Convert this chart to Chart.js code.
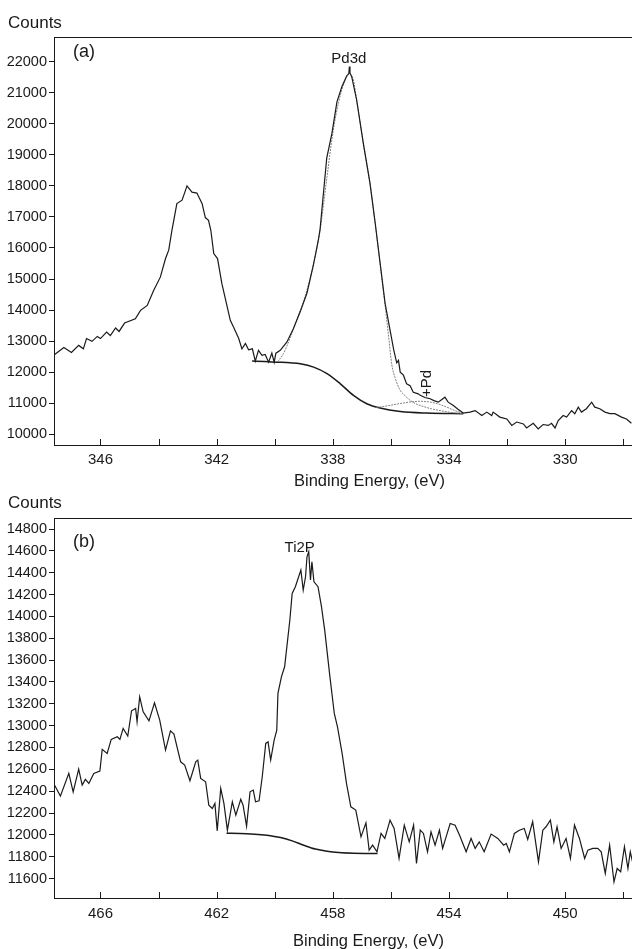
<!DOCTYPE html>
<html>
<head>
<meta charset="utf-8">
<script src="https://cdn.jsdelivr.net/npm/chart.js@4/dist/chart.umd.min.js"></script>
<style>
  html, body { margin: 0; padding: 0; background: #fff; overflow: hidden; }
  #wrap { position: relative; width: 632px; height: 949px; }
  canvas { position: absolute; left: 0; }
  #chartA { top: 0; }
  #chartB { top: 490px; }
</style>
</head>
<body>
<div id="wrap">
  <canvas id="chartA" width="632" height="490"></canvas>
  <canvas id="chartB" width="632" height="459"></canvas>
</div>
<script>
// (a) Pd3d region: measured spectrum
const energyA = [347.61, 347.26, 347.00, 346.75, 346.59, 346.48, 346.29, 346.11, 346.00, 345.79,
    345.66, 345.48, 345.36, 345.17, 344.80, 344.62, 344.39, 344.17, 343.94, 343.76,
    343.65, 343.54, 343.37, 343.19, 343.02, 342.85, 342.68, 342.50, 342.39, 342.28,
    342.20, 342.10, 341.97, 341.82, 341.53, 341.42, 341.24, 341.13, 341.01, 340.90,
    340.77, 340.67, 340.56, 340.44, 340.33, 340.21, 340.10, 340.02, 339.96, 339.81,
    339.58, 339.36, 339.12, 338.89, 338.67, 338.50, 338.44, 338.38, 338.21, 338.03,
    337.86, 337.69, 337.52, 337.45, 337.43, 337.41, 337.35, 337.18, 336.95, 336.72,
    336.54, 336.37, 336.20, 336.03, 335.90, 335.80, 335.74, 335.68, 335.57, 335.46,
    335.34, 335.23, 335.06, 334.99, 334.83, 334.65, 334.52, 334.37, 334.27, 334.14,
    334.03, 333.85, 333.69, 333.51, 333.28, 333.10, 332.87, 332.70, 332.53, 332.48,
    332.25, 332.01, 331.84, 331.67, 331.44, 331.33, 331.10, 330.93, 330.76, 330.58,
    330.47, 330.35, 330.24, 330.07, 329.95, 329.78, 329.67, 329.55, 329.44, 329.27,
    329.09, 328.98, 328.81, 328.63, 328.46, 328.29, 328.06, 327.89, 327.72]
const countsA = [12540, 12790, 12630, 12860, 12750, 13080, 12990, 13150, 13080, 13290,
    13180, 13420, 13310, 13580, 13720, 13990, 14150, 14630, 15060, 15660,
    15930, 16570, 17430, 17540, 18000, 17800, 17770, 17430, 16980, 16890,
    16570, 15820, 15660, 14850, 13670, 13450, 13080, 12750, 12920, 12720,
    12750, 12350, 12700, 12540, 12570, 12320, 12610, 12320, 12610, 12700,
    12970, 13400, 13950, 14550, 15450, 16250, 16600, 17200, 18900, 19700,
    20700, 21200, 21550, 21620, 21850, 21640, 21520, 20770, 19370, 18080,
    16790, 15500, 14210, 13350, 12700, 12300, 12380, 12000, 11900, 11620,
    11560, 11350, 11300, 11250, 11180, 11140, 11080, 11030, 11100, 11190,
    11030, 10920, 10800, 10680, 10710, 10760, 10600, 10710, 10600, 10710,
    10550, 10490, 10280, 10390, 10330, 10200, 10350, 10170, 10310, 10280,
    10350, 10200, 10440, 10600, 10550, 10760, 10660, 10870, 10710, 10820,
    11030, 10870, 10820, 10710, 10660, 10660, 10550, 10490, 10350]

// (a) Shirley background under the Pd3d peak
const bgEnergyA = [340.78, 340.35, 339.93, 339.47, 339.12, 338.66, 338.20, 337.75, 337.29, 336.83, 336.37, 335.68, 334.77, 333.51]
const bgCountsA = [12355, 12340, 12320, 12300, 12270, 12160, 11950, 11630, 11250, 10980, 10840, 10730, 10680, 10660]

// (a) fitted Pd3d envelope
const fitEnergyA = [339.90, 339.70, 339.45, 339.20, 338.95, 338.70, 338.45, 338.20, 338.00, 337.80,
    337.60, 337.45, 337.30, 337.18, 336.95, 336.72, 336.54, 336.37, 336.20, 336.08,
    335.97, 335.85, 335.68, 335.50, 335.34, 335.10, 334.88, 334.60, 334.31, 334.00, 333.51]
const fitCountsA = [12330, 12600, 13150, 13800, 14450, 15350, 16500, 18300, 19700, 20700,
    21350, 21600, 21450, 20770, 19370, 18080, 16790, 15450, 14150, 13150,
    12250, 11800, 11410, 11230, 11090, 10960, 10890, 10815, 10760, 10710, 10660]

// (a) small metallic Pd component
const pdEnergyA = [336.50, 336.20, 335.90, 335.60, 335.30, 335.00, 334.70, 334.40, 334.10, 333.80, 333.51]
const pdCountsA = [10860, 10900, 10950, 11000, 11040, 11060, 11040, 10980, 10880, 10760, 10670]

// (b) Ti2p region: measured spectrum
const energyB = [467.61, 467.38, 467.09, 466.94, 466.75, 466.63, 466.52, 466.40, 466.23, 466.02,
    465.94, 465.77, 465.63, 465.42, 465.33, 465.22, 465.06, 464.93, 464.79, 464.74,
    464.65, 464.53, 464.33, 464.14, 463.96, 463.76, 463.59, 463.47, 463.24, 463.10,
    462.92, 462.72, 462.65, 462.55, 462.38, 462.27, 462.15, 462.06, 461.98, 461.86,
    461.75, 461.63, 461.46, 461.34, 461.17, 461.09, 460.97, 460.85, 460.74, 460.66,
    460.54, 460.43, 460.31, 460.23, 460.14, 460.02, 459.93, 459.89, 459.77, 459.66,
    459.48, 459.40, 459.29, 459.10, 459.02, 458.94, 458.89, 458.83, 458.77, 458.72,
    458.65, 458.51, 458.39, 458.28, 458.10, 457.95, 457.84, 457.68, 457.53, 457.38,
    457.21, 457.03, 456.86, 456.75, 456.63, 456.48, 456.34, 456.21, 456.03, 455.89,
    455.72, 455.54, 455.37, 455.22, 455.12, 454.99, 454.88, 454.74, 454.62, 454.48,
    454.33, 454.22, 454.10, 453.96, 453.79, 453.64, 453.41, 453.24, 453.10, 452.96,
    452.79, 452.55, 452.32, 452.12, 452.03, 451.92, 451.75, 451.58, 451.41, 451.29,
    451.12, 450.92, 450.77, 450.66, 450.51, 450.39, 450.28, 450.14, 449.97, 449.82,
    449.68, 449.51, 449.33, 449.22, 449.05, 448.88, 448.76, 448.62, 448.47, 448.32,
    448.21, 448.09, 447.96, 447.84, 447.76, 447.67]
const countsB = [12471, 12355, 12563, 12394, 12602, 12456, 12508, 12471, 12563, 12584,
    12783, 12746, 12874, 12898, 12874, 12975, 12905, 13136, 13158, 13035,
    13264, 13127, 13044, 13209, 13051, 12776, 12953, 12923, 12669, 12639,
    12495, 12669, 12685, 12517, 12486, 12272, 12242, 12288, 12037, 12425,
    12288, 12043, 12303, 12181, 12325, 12272, 12080, 12394, 12410, 12303,
    12312, 12532, 12837, 12852, 12685, 12868, 12959, 13295, 13447, 13539,
    13967, 14211, 14272, 14425, 14241, 14363, 14546, 14592, 14333, 14501,
    14317, 14272, 14088, 13875, 13447, 13112, 12989, 12746, 12471, 12257,
    12227, 11982, 12110, 11860, 11906, 11845, 12013, 11967, 12135, 12059,
    11784, 12089, 11936, 12089, 11738, 12043, 12013, 11845, 12028, 11906,
    12043, 11876, 11982, 12104, 12089, 11998, 11845, 11967, 11876, 11936,
    11845, 12007, 11967, 11906, 11922, 11845, 12013, 12043, 12059, 11958,
    12120, 11753, 12043, 12074, 12135, 11936, 12074, 11876, 11967, 11784,
    12089, 11967, 11784, 11860, 11876, 11876, 11845, 11647, 11906, 11570,
    11692, 11662, 11891, 11692, 11845, 11738]

// (b) Shirley background under the Ti2p peak
const bgEnergyB = [461.66, 461.20, 460.70, 460.20, 459.80, 459.40, 459.00, 458.60, 458.20, 457.80, 457.30, 456.46]
const bgCountsB = [12015, 12012, 12005, 11995, 11975, 11945, 11905, 11870, 11850, 11838, 11832, 11830]

// axis ticks
const xTicksA = [346, 342, 338, 334, 330]
const xMarksA = [346, 344, 342, 340, 338, 336, 334, 332, 330, 328]
const yTicksA = [10000, 11000, 12000, 13000, 14000, 15000, 16000, 17000, 18000, 19000, 20000, 21000, 22000]
const xTicksB = [466, 462, 458, 454, 450]
const xMarksB = [466, 464, 462, 460, 458, 456, 454, 452, 450, 448]
const yTicksB = [11600, 11800, 12000, 12200, 12400, 12600, 12800, 13000, 13200, 13400, 13600, 13800, 14000, 14200, 14400, 14600, 14800]

const INK = "#1a1a1a"
const FIT = "#808080"
const FONT = "'Liberation Sans', Arial, sans-serif"

function points(xs, ys) {
    return xs.map((x, i) => ({ x: x, y: ys[i] }))
}

function axes(xMin, xMax, xTicks, yMin, yMax, yTicks, bottomSpace, labelPad) {
    return {
        x: {
            type: "linear",
            reverse: true,
            min: xMin,
            max: xMax,
            afterBuildTicks: s => { s.ticks = xTicks.map(v => ({ value: v })) },
            afterFit: s => { s.height = bottomSpace; s.paddingLeft = 0; s.paddingRight = 0 },
            grid: { drawOnChartArea: false, drawTicks: false },
            border: { color: INK, width: 1 },
            ticks: {
                color: INK,
                font: { family: FONT, size: 15 },
                padding: labelPad,
                maxRotation: 0,
                autoSkip: false,
                callback: v => String(v)
            }
        },
        y: {
            type: "linear",
            min: yMin,
            max: yMax,
            afterBuildTicks: s => { s.ticks = yTicks.map(v => ({ value: v })) },
            afterFit: s => { s.width = 54; s.paddingTop = 0; s.paddingBottom = 0 },
            grid: { drawOnChartArea: false, drawTicks: true, tickLength: 5, color: INK },
            border: { color: INK, width: 1 },
            ticks: {
                color: INK,
                font: { family: FONT, size: 14.5 },
                padding: 2,
                autoSkip: false,
                callback: v => String(v)
            }
        }
    }
}

// frame top line, inward x ticks, titles and peak labels
const decor = {
    id: "decor",
    afterDraw(chart, args, o) {
        const ctx = chart.ctx
        const area = chart.chartArea
        const sx = chart.scales.x
        const sy = chart.scales.y
        ctx.save()
        ctx.strokeStyle = INK
        ctx.lineWidth = 1
        ctx.beginPath()
        ctx.moveTo(area.left, area.top + 0.5)
        ctx.lineTo(area.right, area.top + 0.5)
        o.marks.forEach(v => {
            const px = Math.round(sx.getPixelForValue(v)) + 0.5
            ctx.moveTo(px, area.bottom)
            ctx.lineTo(px, area.bottom - 6)
        })
        ctx.stroke()

        ctx.fillStyle = INK
        ctx.textAlign = "left"
        ctx.textBaseline = "alphabetic"
        ctx.font = "17px " + FONT
        ctx.fillText("Counts", 8, o.countsY)
        ctx.font = "18px " + FONT
        ctx.fillText(o.panel, area.left + 19, area.top + o.panelDy)

        ctx.textAlign = "center"
        ctx.font = "16.5px " + FONT
        ctx.fillText("Binding Energy, (eV)", o.titleX, o.titleY)

        ctx.font = "15px " + FONT
        o.peaks.forEach(p => {
            const px = sx.getPixelForValue(p.x)
            const py = sy.getPixelForValue(p.y)
            ctx.save()
            ctx.translate(px, py)
            ctx.rotate(-(p.rot || 0) * Math.PI / 180)
            ctx.textBaseline = p.rot ? "middle" : "alphabetic"
            ctx.fillText(p.text, 0, 0)
            ctx.restore()
        })
        ctx.restore()
    }
}

const lineStyle = { pointRadius: 0, fill: false }

const chartA = new Chart(document.getElementById("chartA"), {
    type: "line",
    data: {
        datasets: [
            { ...lineStyle, data: points(energyA, countsA), borderColor: INK, borderWidth: 1.2, tension: 0 },
            { ...lineStyle, data: points(fitEnergyA, fitCountsA), borderColor: FIT, borderWidth: 1, borderDash: [2, 1], cubicInterpolationMode: "monotone" },
            { ...lineStyle, data: points(pdEnergyA, pdCountsA), borderColor: FIT, borderWidth: 1, borderDash: [2, 1], cubicInterpolationMode: "monotone" },
            { ...lineStyle, data: points(bgEnergyA, bgCountsA), borderColor: INK, borderWidth: 1.5, cubicInterpolationMode: "monotone" }
        ]
    },
    options: {
        responsive: false,
        animation: false,
        layout: { padding: { top: 37, left: 0, right: 0, bottom: 0 } },
        scales: axes(327.7, 347.6, xTicksA, 9650, 22800, yTicksA, 45, 6),
        plugins: {
            legend: { display: false },
            tooltip: { enabled: false },
            decor: {
                marks: xMarksA,
                panel: "(a)",
                panelDy: 19.5,
                countsY: 27.5,
                titleX: 369.5,
                titleY: 486,
                peaks: [
                    { text: "Pd3d", x: 337.45, y: 21960 },
                    { text: "+Pd", x: 334.76, y: 11630, rot: 90 }
                ]
            }
        }
    },
    plugins: [decor]
})

const chartB = new Chart(document.getElementById("chartB"), {
    type: "line",
    data: {
        datasets: [
            { ...lineStyle, data: points(energyB, countsB), borderColor: INK, borderWidth: 1.2, tension: 0 },
            { ...lineStyle, data: points(bgEnergyB, bgCountsB), borderColor: INK, borderWidth: 1.5, cubicInterpolationMode: "monotone" }
        ]
    },
    options: {
        responsive: false,
        animation: false,
        layout: { padding: { top: 28, left: 0, right: 0, bottom: 0 } },
        scales: axes(447.7, 467.6, xTicksB, 11422, 14901, yTicksB, 51, 7),
        plugins: {
            legend: { display: false },
            tooltip: { enabled: false },
            decor: {
                marks: xMarksB,
                panel: "(b)",
                panelDy: 29,
                countsY: 17.5,
                titleX: 368.5,
                titleY: 456,
                peaks: [
                    { text: "Ti2P", x: 459.14, y: 14589 }
                ]
            }
        }
    },
    plugins: [decor]
})
</script>
</body>
</html>
